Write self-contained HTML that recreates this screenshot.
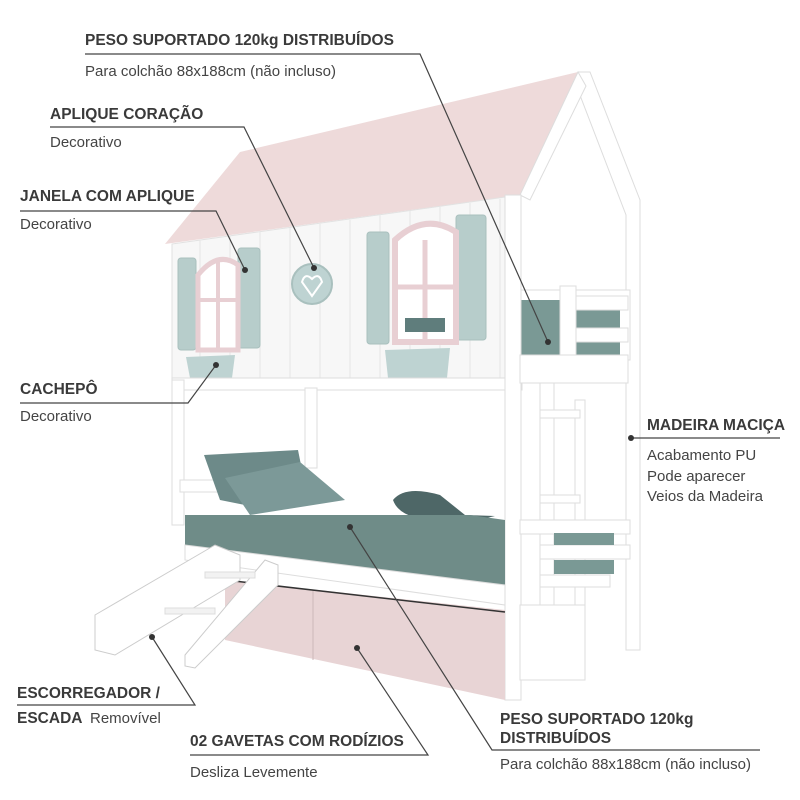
<!DOCTYPE html>
<html><head><meta charset="utf-8"><style>
html,body{margin:0;padding:0;background:#fff;width:800px;height:800px;overflow:hidden}
svg{display:block}
text{font-family:"Liberation Sans",Arial,sans-serif;fill:#3a3a3a}
.b{font-weight:bold;font-size:15.5px}
.r{font-size:15px;fill:#444}
.w{fill:#fff;stroke:#ddd;stroke-width:1}
.l{stroke:#444;stroke-width:1.2;fill:none}
.g{fill:#6f8c88}
.s{fill:#b7cdcb;stroke:#a9c0be}
</style></head><body>
<svg width="800" height="800" viewBox="0 0 800 800">
<!-- back posts / gable -->
<polygon class="w" points="578,72 590,72 640,200 640,650 626,650 626,215 578,90"/>
<!-- top bunk right side -->
<rect class="w" x="520" y="290" width="110" height="70"/>
<rect x="520" y="300" width="100" height="58" fill="#7a9995"/>
<rect class="w" x="560" y="286" width="16" height="70"/>
<rect class="w" x="576" y="296" width="52" height="14"/>
<rect class="w" x="576" y="328" width="52" height="14"/>
<!-- roof -->
<polygon points="165,244 240,152 578,72 520,195" fill="#eedada"/>
<polygon points="578,72 520,195 530,200 586,86" fill="#fff" stroke="#ddd"/>
<!-- front wall -->
<polygon points="172,244 520,195 520,380 172,380" fill="#f7f7f7" stroke="#e2e2e2"/>
<g stroke="#e6e6e6" stroke-width="1">
<line x1="200" y1="240" x2="200" y2="378"/><line x1="230" y1="236" x2="230" y2="378"/><line x1="260" y1="232" x2="260" y2="378"/><line x1="290" y1="228" x2="290" y2="378"/><line x1="320" y1="224" x2="320" y2="378"/><line x1="350" y1="220" x2="350" y2="378"/><line x1="380" y1="215" x2="380" y2="378"/><line x1="410" y1="211" x2="410" y2="378"/><line x1="440" y1="207" x2="440" y2="378"/><line x1="470" y1="203" x2="470" y2="378"/><line x1="500" y1="199" x2="500" y2="378"/>
</g>
<!-- left window -->
<rect class="s" x="178" y="258" width="18" height="92" rx="3"/>
<rect class="s" x="238" y="248" width="22" height="100" rx="3"/>
<path d="M198,350 V275 Q218,250 238,265 V350 Z" fill="#fff" stroke="#e8cfd3" stroke-width="5"/>
<line x1="218" y1="262" x2="218" y2="348" stroke="#e8cfd3" stroke-width="4"/>
<line x1="198" y1="300" x2="238" y2="300" stroke="#e8cfd3" stroke-width="4"/>
<!-- heart -->
<circle cx="312" cy="284" r="20" fill="#bed3d2" stroke="#a9c0be" stroke-width="2"/>
<path d="M312,296 L302,282 Q305,272 312,279 Q319,272 322,282 Z" fill="none" stroke="#fff" stroke-width="2"/>
<!-- right window -->
<rect class="s" x="367" y="232" width="22" height="112" rx="3"/>
<rect class="s" x="456" y="215" width="30" height="125" rx="3"/>
<path d="M395,342 V240 Q425,212 456,232 V342 Z" fill="#fff" stroke="#e8cfd3" stroke-width="6"/>
<line x1="425" y1="240" x2="425" y2="340" stroke="#e8cfd3" stroke-width="5"/>
<line x1="395" y1="287" x2="456" y2="287" stroke="#e8cfd3" stroke-width="5"/>
<rect x="405" y="318" width="40" height="14" fill="#5f7d7c"/>
<!-- cachepos -->
<polygon points="186,357 235,355 232,378 190,378" fill="#bed3d2"/>
<polygon points="385,350 450,348 447,378 388,378" fill="#bed3d2"/>
<!-- top bunk frame -->
<rect class="w" x="172" y="378" width="350" height="12"/>
<rect class="w" x="172" y="380" width="12" height="145"/>
<rect class="w" x="305" y="388" width="12" height="80"/>
<rect class="w" x="180" y="480" width="40" height="12"/>
<!-- ladder / front post -->
<rect class="w" x="505" y="195" width="16" height="505"/>
<rect class="w" x="540" y="360" width="14" height="260"/>
<rect class="w" x="575" y="400" width="10" height="230"/>
<rect class="w" x="520" y="355" width="108" height="28"/>
<rect class="w" x="540" y="410" width="40" height="8"/>
<rect class="w" x="540" y="495" width="40" height="8"/>
<rect class="w" x="520" y="520" width="110" height="14"/>
<rect class="w" x="540" y="545" width="90" height="14"/>
<rect x="554" y="533" width="60" height="12" fill="#7a9995"/>
<rect x="554" y="560" width="60" height="14" fill="#7a9995"/>
<rect class="w" x="540" y="575" width="70" height="12"/>
<rect class="w" x="520" y="605" width="65" height="75"/>
<!-- pillows -->
<polygon points="204,455 298,450 302,470 245,505 220,500" fill="#6d8a89"/>
<polygon points="225,478 300,462 345,500 250,515" fill="#7c9998"/>
<path d="M393,500 Q405,485 440,495 L465,515 L495,516 L470,522 L440,520 Q400,520 393,500Z" fill="#4e6767"/>
<!-- mattress -->
<polygon points="185,515 470,515 505,520 505,585 185,545" class="g"/>
<polygon points="185,545 505,585 505,605 185,560" fill="#fff" stroke="#ddd"/>
<!-- drawers -->
<polygon points="225,580 505,610 505,700 225,640" fill="#e8d4d5"/>
<line x1="313" y1="590" x2="313" y2="660" stroke="#cdb7b9"/>
<line x1="225" y1="580" x2="505" y2="612" stroke="#333" stroke-width="1.5"/>
<!-- slide -->
<polygon points="95,615 215,545 240,555 240,580 115,655 95,650" fill="#fff" stroke="#ccc"/>
<polygon points="185,655 265,560 278,565 278,585 195,668 185,666" fill="#fff" stroke="#ccc"/>
<rect x="205" y="572" width="50" height="6" fill="#f2f2f2" stroke="#ddd"/>
<rect x="165" y="608" width="50" height="6" fill="#f2f2f2" stroke="#ddd"/>

<!-- callouts -->
<text class="b" x="85" y="45">PESO SUPORTADO 120kg DISTRIBUÍDOS</text>
<polyline class="l" points="85,54 420,54 548,342"/>
<text class="r" x="85" y="76">Para colchão 88x188cm (não incluso)</text>
<circle cx="548" cy="342" r="3" fill="#333"/>

<text class="b" x="50" y="119">APLIQUE CORAÇÃO</text>
<polyline class="l" points="50,127 244,127 314,268"/>
<text class="r" x="50" y="147">Decorativo</text>
<circle cx="314" cy="268" r="3" fill="#333"/>

<text class="b" x="20" y="201">JANELA COM APLIQUE</text>
<polyline class="l" points="20,211 216,211 245,270"/>
<text class="r" x="20" y="229">Decorativo</text>
<circle cx="245" cy="270" r="3" fill="#333"/>

<text class="b" x="20" y="394">CACHEPÔ</text>
<polyline class="l" points="20,403 188,403 216,365"/>
<text class="r" x="20" y="421">Decorativo</text>
<circle cx="216" cy="365" r="3" fill="#333"/>

<text class="b" x="647" y="430">MADEIRA MACIÇA</text>
<line class="l" x1="631" y1="438" x2="780" y2="438"/>
<circle cx="631" cy="438" r="3" fill="#333"/>
<text class="r" x="647" y="460">Acabamento PU</text>
<text class="r" x="647" y="481">Pode aparecer</text>
<text class="r" x="647" y="501">Veios da Madeira</text>

<text class="b" x="17" y="698">ESCORREGADOR /</text>
<polyline class="l" points="17,705 195,705 152,637"/>
<circle cx="152" cy="637" r="3" fill="#333"/>
<text class="b" x="17" y="723">ESCADA</text>
<text class="r" x="90" y="723">Removível</text>

<text class="b" x="190" y="746">02 GAVETAS COM RODÍZIOS</text>
<polyline class="l" points="190,755 428,755 357,648"/>
<circle cx="357" cy="648" r="3" fill="#333"/>
<text class="r" x="190" y="777">Desliza Levemente</text>

<text class="b" x="500" y="724">PESO SUPORTADO 120kg</text>
<text class="b" x="500" y="743">DISTRIBUÍDOS</text>
<polyline class="l" points="760,750 492,750 350,527"/>
<circle cx="350" cy="527" r="3" fill="#333"/>
<text class="r" x="500" y="769">Para colchão 88x188cm (não incluso)</text>
</svg>
</body></html>
